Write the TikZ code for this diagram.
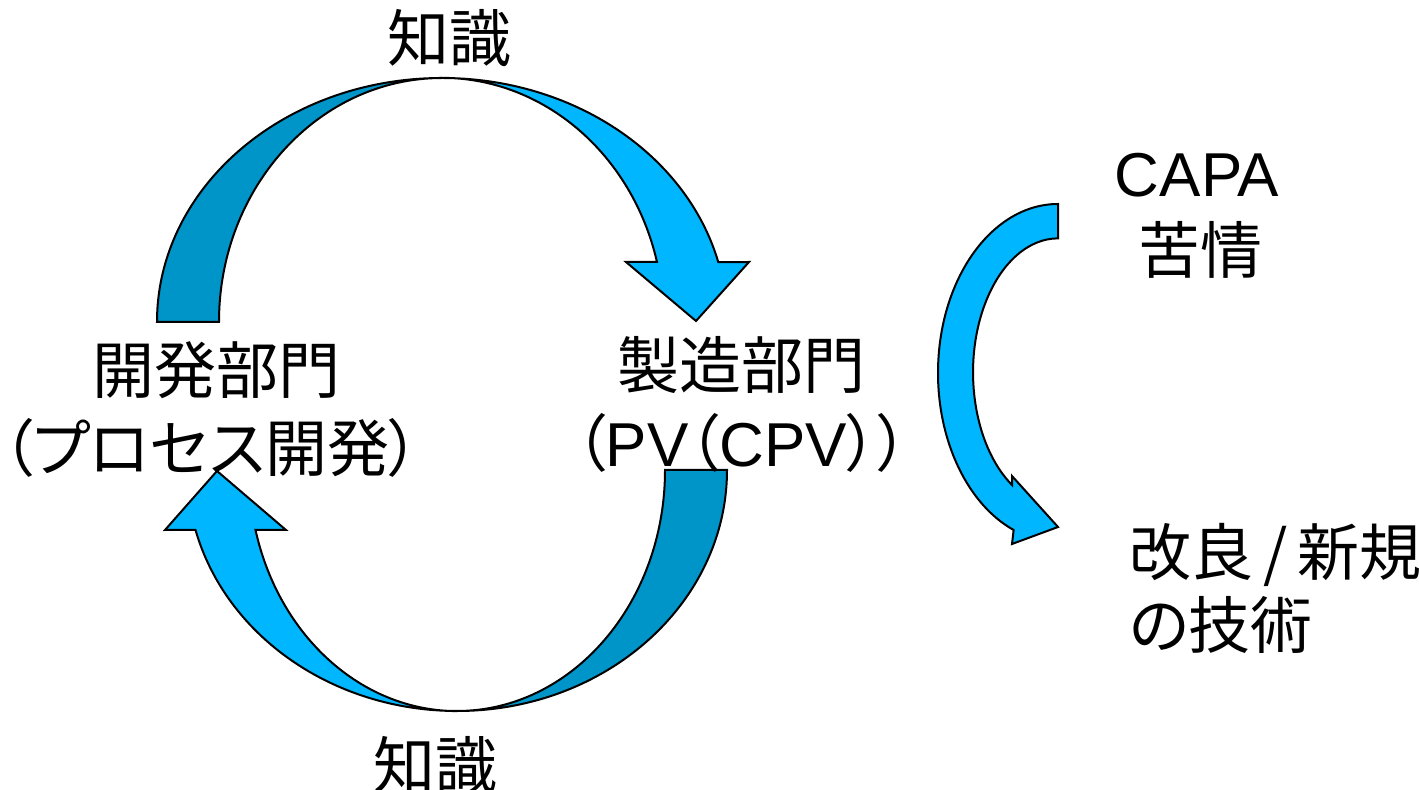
\documentclass[tikz,border=0pt]{standalone}
\usepackage{fontspec}
\setmainfont{Liberation Sans}
\newfontfamily\jp[RawFeature=+palt]{Noto Sans CJK JP}
\definecolor{skyblue}{RGB}{0,183,255}
\definecolor{deepblue}{RGB}{0,149,201}

\begin{document}
\begin{tikzpicture}[x=0.5pt,y=-0.5pt,line width=1pt,
  front/.style={draw=black,fill=skyblue},
  back/.style={draw=black,fill=deepblue},
  lbl/.style={font=\fontsize{31}{38}\selectfont\jp,inner sep=0pt}]
  \useasboundingbox (0,0) rectangle (1419,790);
  % upper arrow
  \draw[back] (157,322) arc[start angle=180,end angle=270,x radius=285,y radius=244]
    arc[start angle=270,end angle=180,x radius=223,y radius=244] -- cycle;
  \draw[front] (442,78) arc[start angle=270,end angle=345.8,x radius=285,y radius=244]
    -- (749,262) -- (696,321) -- (626,262) -- (657,262)
    arc[start angle=345.8,end angle=270,x radius=222,y radius=244] -- cycle;
  % lower arrow
  \draw[back] (727,470) arc[start angle=0,end angle=90,x radius=270,y radius=241]
    arc[start angle=90,end angle=0,x radius=208,y radius=241] -- cycle;
  \draw[front] (457,711) arc[start angle=90,end angle=165.6,x radius=270,y radius=241]
    -- (165,530) -- (217,471) -- (286,530) -- (255.5,530)
    arc[start angle=165.6,end angle=90,x radius=208,y radius=241] -- cycle;
  % right arrow
  \draw[front] (1058,204) arc[start angle=270,end angle=111.7,x radius=120,y radius=169]
    -- (1012,544) -- (1058,527) -- (1012,476) -- (1012,485)
    arc[start angle=122.8,end angle=270,x radius=85,y radius=134] -- cycle;

  \node[lbl] (know1) at (449,38) {知識};
  \node[lbl] (know2) at (435,765) {知識};
  \node[lbl] (dev) at (216,370) {開発部門};
  \node[lbl] (devsub) at (211,448) {（プロセス開発）};
  \node[lbl] (mfg) at (741,365) {製造部門};
  \node[lbl] (mfgsub) at (742,443) {（{\rmfamily PV}（{\rmfamily CPV}））};
  \node[lbl] (capa) at (1197,175) {\rmfamily CAPA};
  \node[lbl] (claim) at (1200,250) {苦情};
  \node[lbl,anchor=west] (impr) at (1128,555) {改良\,/\,新規};
  \node[lbl,anchor=west] (tech) at (1128,625) {の技術};
\end{tikzpicture}
\end{document}
